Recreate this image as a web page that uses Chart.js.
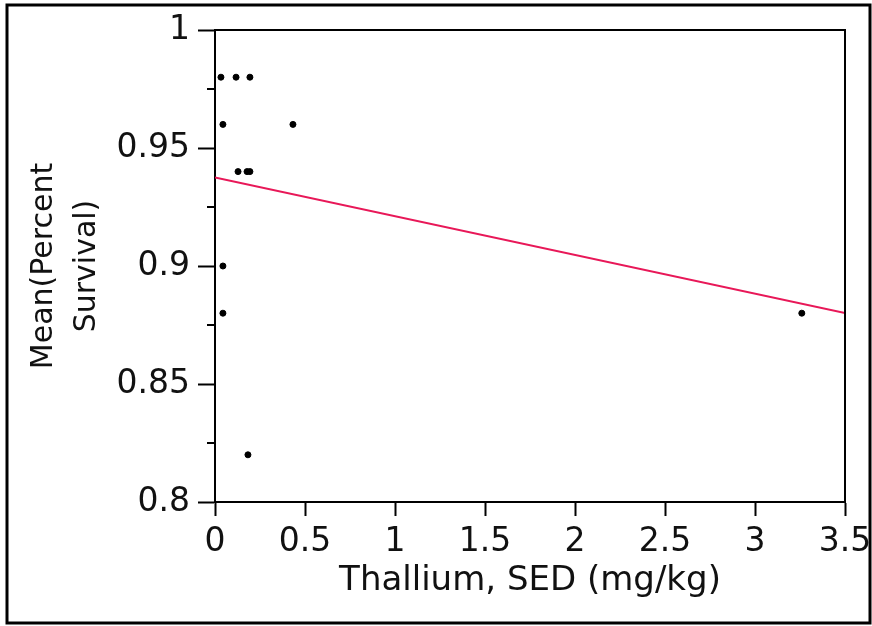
<!DOCTYPE html>
<html>
<head>
<meta charset="utf-8">
<script src="https://cdn.jsdelivr.net/npm/chart.js@4/dist/chart.umd.min.js"></script>
<style>
html,body{margin:0;padding:0;background:#fff;}
#wrap{width:872px;height:626px;position:relative;}
</style>
</head>
<body>
<div id="wrap"><canvas id="c" width="872" height="626"></canvas></div>
<script>
// Data
const thalliumX = [0.033, 0.117, 0.194, 0.044, 0.433, 0.128, 0.178, 0.194, 0.044, 0.044, 0.183, 3.26];
const survivalY = [0.98, 0.98, 0.98, 0.96, 0.96, 0.94, 0.94, 0.94, 0.90, 0.88, 0.82, 0.88];
const fitX = [0, 3.5];
const fitY = [0.9375, 0.8801];
const xTickValues = [0, 0.5, 1, 1.5, 2, 2.5, 3, 3.5];
const xTickLabels = ['0', '0.5', '1', '1.5', '2', '2.5', '3', '3.5'];
const yTickValues = [0.8, 0.85, 0.9, 0.95, 1];
const yTickLabels = ['0.8', '0.85', '0.9', '0.95', '1'];
const yMinorTicks = [0.825, 0.875, 0.925, 0.975];

const points = thalliumX.map((x, i) => ({x: x, y: survivalY[i]}));
const fit = fitX.map((x, i) => ({x: x, y: fitY[i]}));

const frame = {
  id: 'frame',
  beforeDraw(chart) {
    const ctx = chart.ctx;
    ctx.save();
    ctx.fillStyle = '#fff';
    ctx.fillRect(0, 0, chart.width, chart.height);
    ctx.restore();
  },
  afterDraw(chart) {
    const ctx = chart.ctx;
    const a = chart.chartArea;
    const ys = chart.scales.y;
    ctx.save();
    ctx.strokeStyle = '#000';
    ctx.lineWidth = 2;
    ctx.beginPath();
    ctx.moveTo(a.left, a.top);
    ctx.lineTo(a.right, a.top);
    ctx.lineTo(a.right, a.bottom);
    ctx.stroke();
    ctx.beginPath();
    yMinorTicks.forEach(v => {
      const p = Math.round(ys.getPixelForValue(v));
      ctx.moveTo(a.left - 8, p);
      ctx.lineTo(a.left, p);
    });
    ctx.stroke();
    ctx.lineWidth = 3;
    ctx.strokeRect(7, 5, 863, 618);
    ctx.restore();
  }
};

new Chart(document.getElementById('c'), {
  type: 'scatter',
  data: {
    datasets: [
      {
        type: 'line',
        data: fit,
        borderColor: 'rgb(232,24,88)',
        borderWidth: 2,
        pointRadius: 0,
        fill: false,
        order: 2
      },
      {
        data: points,
        backgroundColor: '#000',
        borderColor: '#000',
        pointRadius: 3,
        order: 1
      }
    ]
  },
  options: {
    responsive: false,
    animation: false,
    events: [],
    layout: {padding: {left: 0, right: 27, top: 30, bottom: 24}},
    plugins: {legend: {display: false}, tooltip: {enabled: false}},
    scales: {
      x: {
        type: 'linear',
        min: 0, max: 3.5,
        afterBuildTicks(s) { s.ticks = xTickValues.map(v => ({value: v})); },
        ticks: {
          color: '#111',
          font: {family: 'DejaVu Sans', size: 33},
          padding: 7,
          maxRotation: 0,
          autoSkip: false,
          callback: (v) => { const i = xTickValues.indexOf(v); return i >= 0 ? xTickLabels[i] : ''; }
        },
        grid: {drawOnChartArea: false, tickLength: 14, tickWidth: 2, tickColor: '#000'},
        border: {display: true, color: '#000', width: 2},
        title: {
          display: true,
          text: 'Thallium, SED (mg/kg)',
          color: '#111',
          font: {family: 'DejaVu Sans', size: 34},
          padding: {top: 2, bottom: 0}
        },
        afterFit(s) { s.height = 100; s.paddingLeft = 0; s.paddingRight = 0; }
      },
      y: {
        type: 'linear',
        min: 0.8, max: 1,
        afterBuildTicks(s) { s.ticks = yTickValues.map(v => ({value: v})); },
        ticks: {
          color: '#111',
          font: {family: 'DejaVu Sans', size: 33},
          padding: 8,
          autoSkip: false,
          callback: (v) => { const i = yTickValues.indexOf(v); return i >= 0 ? yTickLabels[i] : ''; }
        },
        grid: {drawOnChartArea: false, tickLength: 17, tickWidth: 2, tickColor: '#000'},
        border: {display: true, color: '#000', width: 2},
        title: {
          display: true,
          text: ['Mean(Percent', 'Survival)'],
          color: '#111',
          font: {family: 'DejaVu Sans', size: 30, lineHeight: 1.45},
          padding: {top: 22, bottom: 6}
        },
        afterFit(s) { s.width = 215; s.paddingTop = 0; s.paddingBottom = 0; }
      }
    }
  },
  plugins: [frame]
});
</script>
</body>
</html>
